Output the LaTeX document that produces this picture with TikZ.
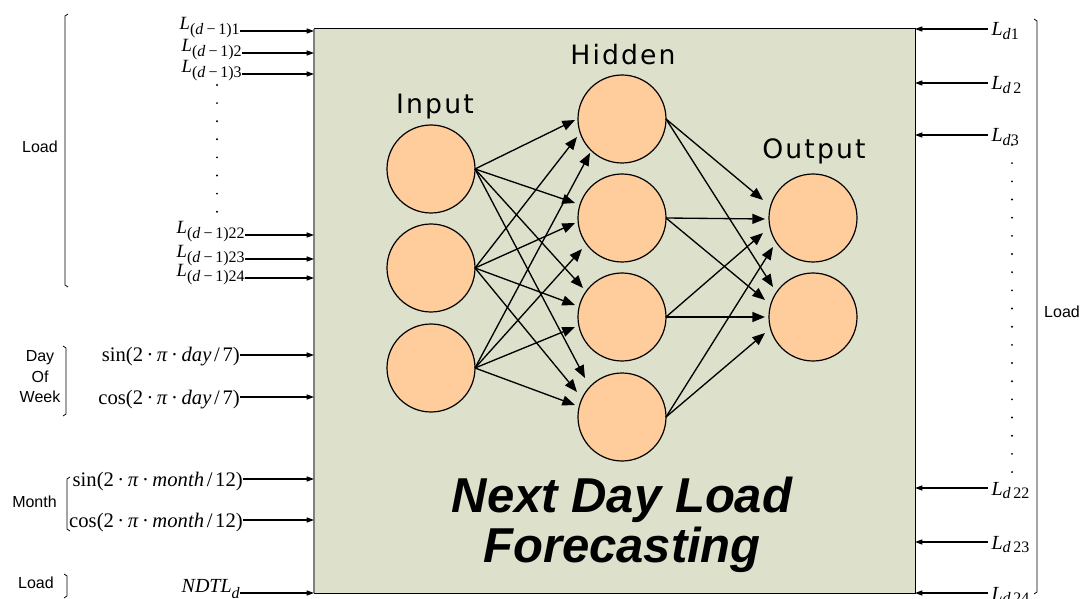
\documentclass[tikz,border=0pt]{standalone}
\usepackage{fontspec}
\setmainfont{Liberation Serif}
\newfontfamily\arl{Liberation Sans}
\newfontfamily\djv[LetterSpace=8]{DejaVu Sans}
\usetikzlibrary{arrows.meta,calc}
\definecolor{panel}{RGB}{221,225,204}
\definecolor{peach}{RGB}{255,205,155}
\newcommand\mi[1]{\textit{#1}}
% lagged load inputs L_{(d-1)k}
\newcommand\Lp[1]{{\fontsize{14}{14}\selectfont\mi{L}\raisebox{-0.26em}{\fontsize{12}{12}\selectfont(\mi{d}\kern2.5pt−\kern2pt1)#1}}}
% forecast outputs L_{dk}
\newcommand\Ld[1]{{\fontsize{15}{15}\selectfont\mi{L}\raisebox{-0.18em}{\fontsize{12}{12}\selectfont\mi{d}#1}}}
\newcommand\eqf{\fontsize{15.5}{15.5}\selectfont}
\newcommand\gp{\kern2.6pt}
\newcommand\divsep{\kern2pt/\kern2pt}
\begin{document}
\begin{tikzpicture}[x=0.75pt,y=-0.75pt,
  neuron/.style={circle,draw=black,line width=0.9pt,fill=peach,minimum size=66pt,inner sep=0pt,outer sep=0pt},
  link/.style={line width=1pt,-{Triangle[length=9.5pt,width=7.5pt]}},
  feed/.style={line width=0.9pt,-{Triangle[length=5.5pt,width=3.8pt]}},
  layer/.style={font=\djv\fontsize{20}{20}\selectfont,inner sep=0pt,anchor=base},
  title/.style={font=\arl\bfseries\itshape\fontsize{36.75}{36.75}\selectfont,inner sep=0pt,anchor=base},
  grp/.style={font=\arl\fontsize{12}{15.4}\selectfont,align=center,inner sep=0pt},
  lin/.style={inner sep=0pt,anchor=base east},
  rin/.style={inner xsep=2.5pt,inner ysep=0pt,anchor=base west},
  brk/.style={line width=0.6pt}]
\useasboundingbox (0,0) rectangle (1083,599);

% model block
\node[draw=black,line width=0.75pt,fill=panel,minimum width=450.75pt,minimum height=423pt,inner sep=0pt,outer sep=0pt] (box) at (614.5,311) {};
\draw[line width=2pt,draw=black!50] (box.north west) -- (box.south west);

% network
\node[neuron] (i1) at (431,169) {};
\node[neuron] (i2) at (431,268) {};
\node[neuron] (i3) at (431,368) {};
\node[neuron] (h1) at (622,119) {};
\node[neuron] (h2) at (622,218) {};
\node[neuron] (h3) at (622,317) {};
\node[neuron] (h4) at (622,417) {};
\node[neuron] (o1) at (813,218) {};
\node[neuron] (o2) at (813,317) {};

\foreach \s/\t/\dx/\dy in {i1/h1/-47/1, i2/h1/-45/18, i3/h1/-32/34,
    i1/h2/-47/-15, i2/h2/-47/5, i3/h2/-40/31,
    i1/h3/-39/-29, i2/h3/-47/-12, i3/h3/-47/10,
    i1/h4/-37/-39, i2/h4/-45/-25, i3/h4/-47/-12,
    h1/o1/-50/-18, h2/o1/-48/1, h3/o1/-50/15, h4/o1/-40/29,
    h1/o2/-40/-30, h2/o2/-48/-17, h3/o2/-48/0, h4/o2/-48/16}
  \draw[link] (\s.east) -- ($(\t)+(\dx,\dy)$);

\node[layer] (tin) at (435,114) {Input};
\node[layer] (thid) at (623,65) {Hidden};
\node[layer] (tout) at (814,159) {Output};

\node[title] (t1) at (622,512) {Next Day Load};
\node[title] (t2) at (622,562) {Forecasting};

% inputs on the left
\node[lin] (p1) at (240,30) {\Lp{1}};
\node[lin] (p2) at (242,52) {\Lp{2}};
\node[lin] (p3) at (242,73) {\Lp{3}};
\node[lin] (p22) at (245,234) {\Lp{22}};
\node[lin] (p23) at (245,258) {\Lp{23}};
\node[lin] (p24) at (245,277) {\Lp{24}};
\node[lin] (sd) at (240,362) {\eqf sin(2\gp·\gp\mi{π}\gp·\gp\mi{day}\divsep7)};
\node[lin] (cd) at (240,404) {\eqf cos(2\gp·\gp\mi{π}\gp·\gp\mi{day}\divsep7)};
\node[lin] (sm) at (243,486) {\eqf sin(2\gp·\gp\mi{π}\gp·\gp\mi{month}\divsep12)};
\node[lin] (cm) at (243,527) {\eqf cos(2\gp·\gp\mi{π}\gp·\gp\mi{month}\divsep12)};
\node[lin] (nd) at (240,592) {\fontsize{15}{15}\selectfont\mi{NDTL}\raisebox{-0.3em}{\fontsize{12}{12}\selectfont\mi{d}}};

\foreach \n/\o in {p1/-0.75pt, p2/-0.75pt, p3/-0.75pt, p22/-0.75pt, p23/-0.75pt, p24/-0.75pt,
    sd/5.25pt, cd/5.25pt, sm/5.25pt, cm/5.25pt, nd/-0.75pt}
  \draw[feed] ([yshift=\o]\n.base east) -- ([yshift=\o]\n.base east -| box.west);

\foreach \k in {0,...,7}
  \fill (217,85+18.1*\k) circle (0.8pt);

% outputs on the right
\node[rin] (r1) at (988,36) {\Ld{1}};
\node[rin] (r2) at (988,90) {\Ld{\,2}};
\node[rin] (r3) at (988,142) {\Ld{3}};
\node[rin] (r22) at (988,495) {\Ld{\,22}};
\node[rin] (r23) at (988,549) {\Ld{\,23}};
\node[rin] (r24) at (988,600) {\Ld{\,24}};
\foreach \n in {r1,r2,r3,r22,r23,r24}
  \draw[feed] ([yshift=5.25pt]\n.base west) -- ([yshift=5.25pt]\n.base west -| box.east);

\foreach \k in {0,...,18}
  \fill (1012,145+18.17*\k) circle (0.8pt);

% group brackets and captions
\draw[brk] (68,14) -- (65,16) -- (65,285) -- (68,287);
\draw[brk] (63,346) -- (66,348) -- (66,414) -- (63,416);
\draw[brk] (70,477) -- (67,479) -- (67,529) -- (70,531);
\draw[brk] (64,574) -- (67,576) -- (67,596) -- (64,598);
\draw[brk] (1034,19) -- (1037,21) -- (1037,592) -- (1034,594);

\node[grp] (gload) at (40,147) {Load};
\node[grp] (gdow) at (40,377) {Day\\Of\\Week};
\node[grp] (gmon) at (34.5,502) {Month};
\node[grp] (gnext) at (36,583) {Load};
\node[grp] (gout) at (1062,312) {Load};
\end{tikzpicture}
\end{document}
